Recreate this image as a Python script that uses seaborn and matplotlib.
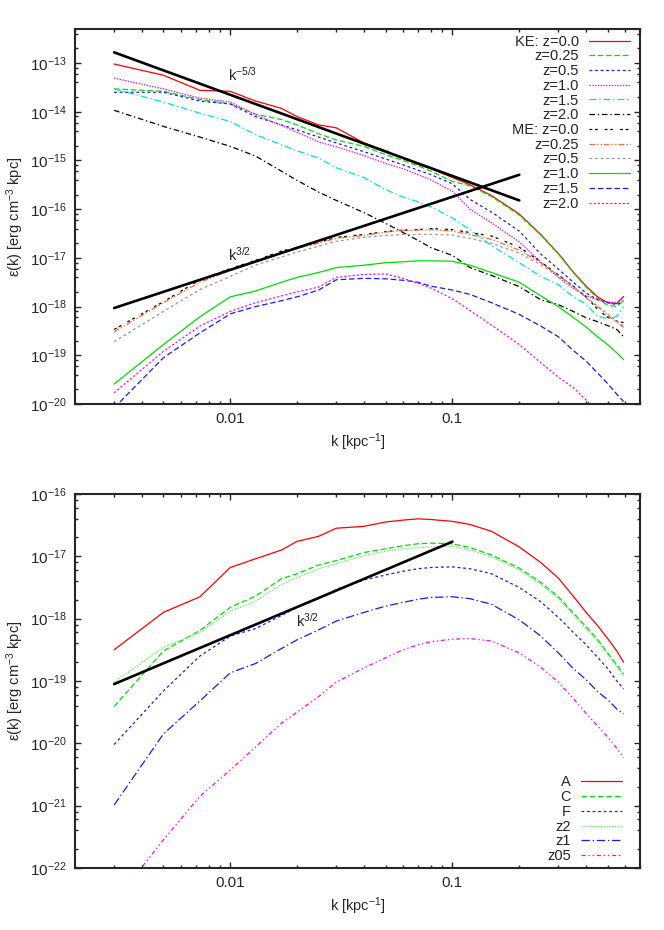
import numpy as np
import pandas as pd
import matplotlib
matplotlib.use('Agg')
from matplotlib import pyplot as plt
from matplotlib import ticker
import seaborn as sns

# wavenumber grid (kpc^-1)
k = [0.003, 0.005, 0.0073, 0.01, 0.013, 0.017, 0.02, 0.025, 0.03, 0.04, 0.05,
     0.06, 0.07, 0.08, 0.1, 0.12, 0.15, 0.2, 0.25, 0.3, 0.35, 0.4, 0.45, 0.5,
     0.55, 0.59]

# top panel, log10 of spectra: kinetic energy
ke_z00 = [-13.02, -13.25, -13.56, -13.58, -13.78, -13.93, -14.10, -14.27, -14.33, -14.64, -14.80,
          -14.96, -15.08, -15.17, -15.35, -15.50, -15.72, -16.10, -16.52, -16.91, -17.29, -17.58,
          -17.80, -17.92, -17.94, -17.79]
ke_z025 = [-13.53, -13.58, -13.75, -13.84, -14.05, -14.16, -14.27, -14.45, -14.58, -14.71, -14.88,
           -15.00, -15.11, -15.22, -15.43, -15.52, -15.74, -16.12, -16.53, -16.92, -17.30, -17.60,
           -17.83, -17.97, -18.00, -17.88]
ke_z05 = [-13.60, -13.60, -13.78, -13.84, -14.10, -14.27, -14.37, -14.52, -14.64, -14.82, -14.97,
          -15.09, -15.20, -15.29, -15.48, -15.80, -16.06, -16.45, -16.92, -17.23, -17.50, -17.72,
          -17.86, -17.92, -17.96, -17.88]
ke_z10 = [-13.31, -13.53, -13.72, -13.80, -14.06, -14.28, -14.42, -14.62, -14.72, -14.90, -15.06,
          -15.17, -15.29, -15.40, -15.63, -16.00, -16.28, -16.67, -17.08, -17.40, -17.63, -17.78,
          -17.86, -17.90, -17.92, -17.80]
ke_z15 = [-13.53, -13.80, -14.03, -14.20, -14.47, -14.68, -14.80, -14.95, -15.15, -15.35, -15.60,
          -15.75, -15.85, -15.95, -16.18, -16.42, -16.75, -17.10, -17.38, -17.55, -17.80, -17.95,
          -18.20, -18.25, -18.20, -18.00]
ke_z20 = [-13.97, -14.30, -14.52, -14.71, -14.91, -15.22, -15.41, -15.65, -15.82, -16.07, -16.29,
          -16.48, -16.64, -16.79, -16.95, -17.20, -17.36, -17.59, -17.86, -17.96, -18.10, -18.23,
          -18.31, -18.39, -18.47, -18.62]

# top panel, log10 of spectra: magnetic energy
me_z00 = [-18.47, -17.90, -17.45, -17.22, -17.05, -16.86, -16.78, -16.68, -16.58, -16.52, -16.46,
          -16.43, -16.42, -16.40, -16.42, -16.48, -16.55, -16.78, -17.08, -17.35, -17.58, -17.80,
          -18.05, -18.22, -18.30, -18.33]
me_z025 = [-18.52, -17.92, -17.50, -17.26, -17.09, -16.90, -16.80, -16.70, -16.60, -16.54, -16.47,
           -16.44, -16.43, -16.42, -16.45, -16.52, -16.62, -16.84, -17.10, -17.36, -17.58, -17.82,
           -18.00, -18.18, -18.32, -18.43]
me_z05 = [-18.72, -18.10, -17.65, -17.38, -17.15, -16.98, -16.88, -16.76, -16.66, -16.58, -16.54,
          -16.52, -16.52, -16.52, -16.53, -16.60, -16.70, -16.90, -17.14, -17.38, -17.60, -17.82,
          -17.98, -18.15, -18.30, -18.40]
me_z10 = [-19.59, -18.78, -18.21, -17.80, -17.68, -17.50, -17.40, -17.30, -17.20, -17.15, -17.10,
          -17.08, -17.06, -17.06, -17.07, -17.15, -17.30, -17.50, -17.78, -18.00, -18.22, -18.42,
          -18.62, -18.78, -18.95, -19.09]
me_z15 = [-20.08, -19.05, -18.54, -18.15, -18.00, -17.88, -17.80, -17.66, -17.45, -17.42, -17.43,
          -17.46, -17.50, -17.58, -17.66, -17.75, -17.92, -18.16, -18.40, -18.62, -18.90, -19.12,
          -19.36, -19.58, -19.80, -19.95]
me_z20 = [-19.77, -18.92, -18.40, -18.10, -17.92, -17.78, -17.70, -17.60, -17.40, -17.34, -17.33,
          -17.42, -17.52, -17.62, -17.84, -18.08, -18.38, -18.78, -19.15, -19.45, -19.66, -19.92,
          -20.15, -20.40, -20.60, -20.80]

# bottom panel, log10 of magnetic spectra per run
run_A = [-18.50, -17.90, -17.65, -17.18, -17.04, -16.90, -16.76, -16.68, -16.55, -16.52, -16.45,
         -16.42, -16.40, -16.41, -16.44, -16.49, -16.60, -16.85, -17.10, -17.35, -17.64, -17.90,
         -18.11, -18.32, -18.52, -18.70]
run_C = [-19.41, -18.52, -18.19, -17.82, -17.64, -17.36, -17.28, -17.14, -17.07, -16.94, -16.88,
         -16.83, -16.80, -16.79, -16.80, -16.86, -16.98, -17.19, -17.42, -17.65, -17.91, -18.13,
         -18.33, -18.55, -18.74, -18.89]
run_F = [-20.02, -19.16, -18.60, -18.28, -18.16, -17.95, -17.82, -17.68, -17.53, -17.38, -17.30,
         -17.24, -17.20, -17.18, -17.17, -17.20, -17.28, -17.50, -17.73, -17.98, -18.22, -18.42,
         -18.62, -18.80, -19.00, -19.13]
run_z2 = [-19.02, -18.46, -18.22, -17.88, -17.72, -17.45, -17.34, -17.20, -17.12, -16.99, -16.92,
          -16.88, -16.86, -16.85, -16.84, -16.90, -17.01, -17.22, -17.45, -17.68, -17.94, -18.16,
          -18.36, -18.58, -18.77, -18.92]
run_z1 = [-20.99, -19.85, -19.32, -18.87, -18.72, -18.48, -18.34, -18.18, -18.04, -17.90, -17.80,
          -17.74, -17.69, -17.66, -17.65, -17.68, -17.77, -18.02, -18.28, -18.55, -18.80, -18.98,
          -19.17, -19.30, -19.45, -19.53]
run_z05 = [-22.55, -21.55, -20.85, -20.43, -20.06, -19.68, -19.50, -19.25, -19.02, -18.79, -18.63,
           -18.50, -18.42, -18.37, -18.33, -18.32, -18.36, -18.55, -18.78, -19.02, -19.28, -19.52,
           -19.72, -19.90, -20.08, -20.23]

# power-law guide lines: (k range, log10 amplitude at first k, slope)
guide_kol = ([0.003, 0.2], -12.78, -5.0 / 3.0)
guide_top = ([0.003, 0.2], -18.03, 1.5)
guide_bot = ([0.003, 0.1], -19.05, 1.5)

top_series = [
    ('KE: z=0.0', ke_z00, '#ff0000', '-'),
    ('z=0.25', ke_z025, '#00dd00', (0, (4, 2))),
    ('z=0.5', ke_z05, '#1a1aff', (0, (2, 2))),
    ('z=1.0', ke_z10, '#ff00ff', (0, (1, 1))),
    ('z=1.5', ke_z15, '#00e0e0', (0, (5, 2, 1, 2))),
    ('z=2.0', ke_z20, '#000000', (0, (4, 2, 1, 2))),
    ('ME: z=0.0', me_z00, '#000000', (0, (2, 2, 2, 5))),
    ('z=0.25', me_z025, '#ff6a30', (0, (4, 1.5, 1, 1.5, 1, 1.5))),
    ('z=0.5', me_z05, '#999999', (0, (2, 2))),
    ('z=1.0', me_z10, '#00dd00', '-'),
    ('z=1.5', me_z15, '#1a1aff', (0, (4, 2))),
    ('z=2.0', me_z20, '#ff00ff', (0, (1.5, 1.5))),
]
bot_series = [
    ('A', run_A, '#ff0000', '-'),
    ('C', run_C, '#00dd00', (0, (4, 2))),
    ('F', run_F, '#1a1aff', (0, (2, 2))),
    ('z2', run_z2, '#66ee66', (0, (1, 1))),
    ('z1', run_z1, '#1a1aff', (0, (6, 2, 1, 2))),
    ('z05', run_z05, '#ff00ff', (0, (3, 2, 1, 2, 1, 2))),
]

sns.set_style('ticks')
plt.rcParams['font.family'] = ['Liberation Sans', 'DejaVu Sans']
plt.rcParams['mathtext.fontset'] = 'custom'
plt.rcParams['mathtext.rm'] = 'Liberation Sans'
plt.rcParams['mathtext.it'] = 'Liberation Sans'
plt.rcParams['lines.scale_dashes'] = False
FS = 11
LFS = 10.5


def draw_guide(ax, guide):
    kr, a, p = guide
    kr = np.array(kr)
    yr = 10 ** (a + p * np.log10(kr / kr[0]))
    sns.lineplot(x=kr, y=yr, ax=ax, color='black', lw=1.9, legend=False)


def style_axes(ax, ylim):
    ax.set_xscale('log')
    ax.set_yscale('log')
    ax.set_xlim(0.002, 0.7)
    ax.set_ylim(*ylim)
    lo, hi = ylim

    def yfmt(v, p):
        if v < lo * 0.99 or v > hi * 1.01:
            return ''
        return r'10$^{\mathrm{%d}}$' % round(np.log10(v))

    def xfmt(v, p):
        if v < 0.002 or v > 0.7:
            return ''
        return '%g' % v

    ax.xaxis.set_major_locator(ticker.LogLocator(base=10, numticks=10))
    ax.xaxis.set_minor_locator(ticker.LogLocator(base=10, subs=np.arange(2, 10), numticks=10))
    ax.xaxis.set_major_formatter(ticker.FuncFormatter(xfmt))
    ax.xaxis.set_minor_formatter(ticker.NullFormatter())
    ax.yaxis.set_major_locator(ticker.LogLocator(base=10, numticks=20))
    ax.yaxis.set_minor_locator(ticker.LogLocator(base=10, subs=(2, 4, 6, 8), numticks=20))
    ax.yaxis.set_major_formatter(ticker.FuncFormatter(yfmt))
    ax.yaxis.set_minor_formatter(ticker.NullFormatter())
    ax.tick_params(which='both', direction='in', top=True, right=True, labelsize=FS, width=1.0)
    ax.tick_params(which='major', length=4.5)
    ax.tick_params(which='minor', length=2.5)
    ax.tick_params(axis='x', pad=6)
    ax.tick_params(axis='y', pad=6)
    for s in ax.spines.values():
        s.set_linewidth(1.5)
    ax.set_xlabel(r'k [kpc$^{\mathrm{-1}}$]', fontsize=LFS, labelpad=4)
    ax.set_ylabel(r'ε(k) [erg cm$^{\mathrm{-3}}$ kpc]', fontsize=LFS, labelpad=3)


fig = plt.figure(figsize=(6.64, 9.30), dpi=100)
ax1 = fig.add_axes([0.113, 0.5656, 0.851, 0.4032])
ax2 = fig.add_axes([0.113, 0.0667, 0.851, 0.4022])

kk = np.array(k)
for lab, vals, col, ls in top_series:
    sns.lineplot(x=kk, y=10 ** np.array(vals), ax=ax1, color=col, linestyle=ls,
                 lw=0.9, label=lab, legend=False)
draw_guide(ax1, guide_kol)
draw_guide(ax1, guide_top)
style_axes(ax1, (1e-20, 5e-13))
ax1.text(0.0098, 10 ** -13.25, r'k$^{\mathrm{-5/3}}$', fontsize=LFS, va='center')
ax1.text(0.0098, 10 ** -16.93, r'k$^{\mathrm{3/2}}$', fontsize=LFS, va='center')

handles = ax1.get_lines()[:len(top_series)]
ax1.legend(handles, [s[0] for s in top_series], loc='upper right',
           bbox_to_anchor=(0.982, 0.985), markerfirst=False, frameon=False,
           fontsize=LFS, handlelength=2.8, handletextpad=0.7, labelspacing=0.05,
           borderpad=0.0, borderaxespad=0.0)

for lab, vals, col, ls in bot_series:
    sns.lineplot(x=kk, y=10 ** np.array(vals), ax=ax2, color=col, linestyle=ls,
                 lw=0.9, label=lab, legend=False)
draw_guide(ax2, guide_bot)
style_axes(ax2, (1e-22, 1e-16))
ax2.text(0.0198, 10 ** -18.04, r'k$^{\mathrm{3/2}}$', fontsize=LFS, va='center')

handles = ax2.get_lines()[:len(bot_series)]
ax2.legend(handles, [s[0] for s in bot_series], loc='lower right',
           bbox_to_anchor=(0.968, 0.013), markerfirst=False, frameon=False,
           fontsize=LFS, handlelength=2.8, handletextpad=0.7, labelspacing=0.05,
           borderpad=0.0, borderaxespad=0.0)

fig.savefig('out.png', dpi=100)
